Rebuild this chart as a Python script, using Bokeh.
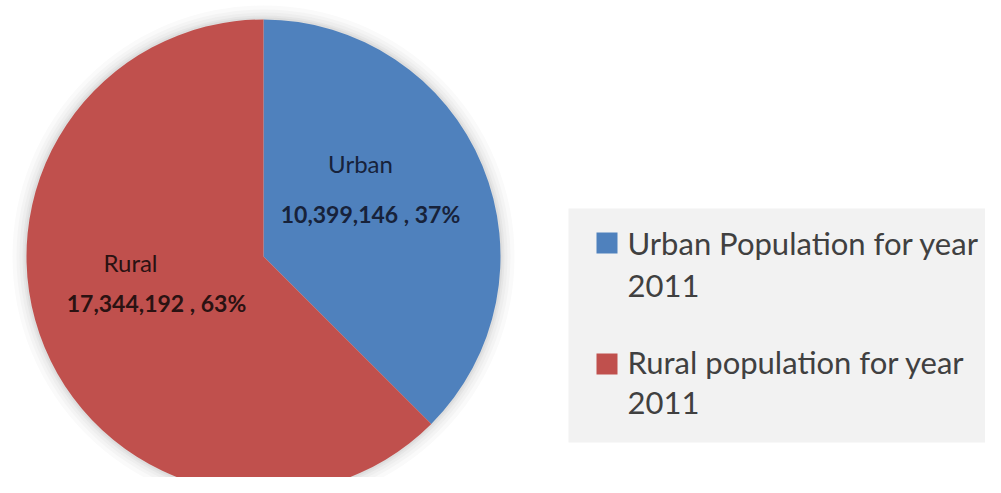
import numpy as np
from bokeh.plotting import figure
from bokeh.models import Range1d, ColumnDataSource
from bokeh.core.properties import value
from bokeh.embed import file_html
from bokeh.resources import INLINE

# ---- data ----
categories = ["Urban", "Rural"]
populations = [10399146, 17344192]
legend_line1 = ["Urban Population for year", "Rural population for year"]
legend_line2 = ["2011", "2011"]
colors = ["#4F81BD", "#C0504D"]
label_colors = ["#17223a", "#2a1212"]

# ---- layout ----
W, H = 985, 477
cx, cy, R = 263, -256, 237

p = figure(width=W, height=H, output_backend="svg", toolbar_location=None,
           x_range=Range1d(0, W), y_range=Range1d(-H, 0),
           min_border=0, x_axis_location=None, y_axis_location=None)
p.grid.visible = False
p.outline_line_color = None
p.background_fill_color = "white"
p.border_fill_color = "white"

# soft halo around the pie
for dr, col in [(14, "#fafafa"), (10, "#f4f4f4"), (7, "#eeeeee"), (4, "#e6e6e6"), (2, "#dddddd")]:
    p.circle(x=[cx], y=[cy], radius=R + dr, fill_color=col, line_color=None)

# pie wedges (clockwise from 12 o'clock)
total = float(sum(populations))
fracs = [v / total for v in populations]
cum = np.cumsum([0] + fracs)
starts = [np.pi / 2 - 2 * np.pi * cum[i + 1] for i in range(len(fracs))]
ends = [np.pi / 2 - 2 * np.pi * cum[i] for i in range(len(fracs))]
src = ColumnDataSource(dict(cat=categories, start=starts, end=ends, color=colors))
p.wedge(x=cx, y=cy, radius=R, start_angle="start", end_angle="end",
        fill_color="color", line_color=None, source=src)

# data labels
name_pos = [(360, -163), (130, -262)]
val_pos = [(370, -213), (156, -302)]
pcts = [round(f * 100) for f in fracs]
val_texts = [f"{v:,} , {pc}%" for v, pc in zip(populations, pcts)]
p.text(x=[q[0] for q in name_pos], y=[q[1] for q in name_pos], text=categories,
       text_font=value("Lato"), text_font_size="24px", text_align="center",
       text_baseline="middle", text_color=label_colors)
p.text(x=[q[0] for q in val_pos], y=[q[1] for q in val_pos], text=val_texts,
       text_font=value("Lato"), text_font_size="23px", text_font_style="bold",
       text_align="center", text_baseline="middle", text_color=label_colors)

# legend box
p.quad(left=[568], right=[1010], top=[-208], bottom=[-442],
       fill_color="#f2f2f2", line_color=None)
sq_top = [-232, -353]
p.quad(left=[596, 596], right=[617, 617], top=sq_top,
       bottom=[t - 21 for t in sq_top], fill_color=colors, line_color=None)
l1_y = [-242, -361]
l2_y = [-285, -402]
p.text(x=[627, 627], y=l1_y, text=legend_line1, text_font=value("Lato"),
       text_font_size="31px", text_align="left", text_baseline="alphabetic",
       text_color="#404040")
p.text(x=[627, 627], y=l2_y, text=legend_line2, text_font=value("Lato"),
       text_font_size="31px", text_align="left", text_baseline="alphabetic",
       text_color="#404040")

open("out.html", "w").write(file_html(p, INLINE))
